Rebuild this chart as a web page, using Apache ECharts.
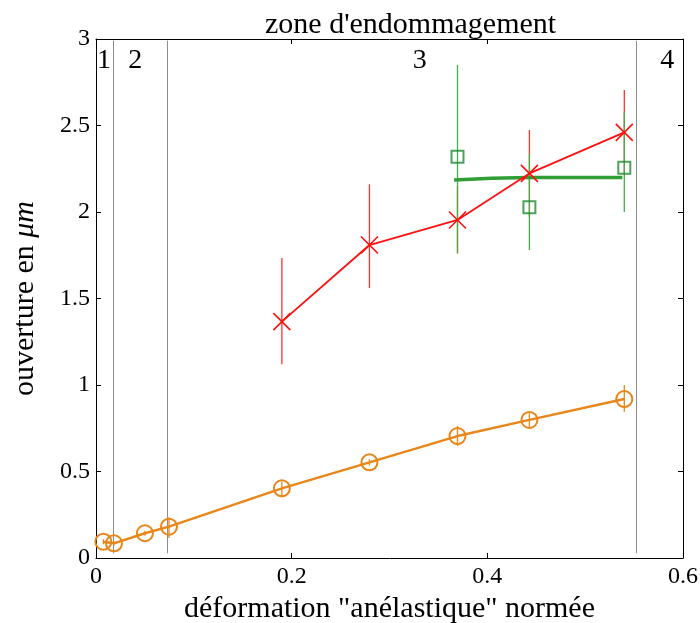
<!DOCTYPE html>
<html>
<head>
<meta charset="utf-8">
<script src="https://cdn.jsdelivr.net/npm/echarts@6/dist/echarts.min.js"></script>
<style>
html,body{margin:0;padding:0;background:#fff;}
#chart{width:700px;height:623px;}
</style>
</head>
<body>
<div id="chart"></div>
<script>
// ---- data ----
const xOrange = [0.0075, 0.0184, 0.050, 0.0746, 0.190, 0.2795, 0.3695, 0.443, 0.540];
const yOrange = [0.094, 0.085, 0.143, 0.181, 0.403, 0.553, 0.705, 0.798, 0.919];
const orangeLow = [0.080, 0.072, 0.128, 0.115, 0.358, 0.535, 0.647, 0.759, 0.846];
const orangeHigh = [0.108, 0.098, 0.158, 0.235, 0.441, 0.571, 0.763, 0.836, 1.000];

const xRed = [0.190, 0.2795, 0.3695, 0.443, 0.540];
const yRed = [1.366, 1.809, 1.954, 2.223, 2.460];
const redLow = [1.120, 1.560, 1.761, 1.970, 2.215];
const redHigh = [1.734, 2.160, 2.150, 2.474, 2.705];

const xGreen = [0.3695, 0.443, 0.540];
const yGreen = [2.320, 2.028, 2.256];
const greenLow = [1.761, 1.780, 2.000];
const greenHigh = [2.850, 2.339, 2.580];

const xGreenFit = [0.366, 0.443, 0.538];
const yGreenFit = [2.185, 2.200, 2.200];

const zoneBounds = [0.0174, 0.0726, 0.552];
const zoneBoundLow = 0.027, zoneBoundHigh = 2.99;
const zoneLabels = ['1', '2', '3', '4'];
const zoneLabelX = [0.0082, 0.040, 0.331, 0.584];
const zoneLabelY = 2.873;

const xTicks = [0, 0.2, 0.4, 0.6];
const yTicks = [0, 0.5, 1, 1.5, 2, 2.5, 3];

// ---- helpers ----
const zip = (a, b) => a.map((v, i) => [v, b[i]]);
const zip3 = (a, b, c) => a.map((v, i) => [v, b[i], c[i]]);
function vline(color, width, crisp) {
  return function (params, api) {
    const p1 = api.coord([api.value(0), api.value(1)]);
    const p2 = api.coord([api.value(0), api.value(2)]);
    const x = crisp ? Math.round(p1[0]) + 0.5 : p1[0];
    return { type: 'line', shape: { x1: x, y1: p1[1], x2: x, y2: p2[1] },
             style: { stroke: color, lineWidth: width } };
  };
}
function errSeries(xs, lo, hi, color, z) {
  return {
    type: 'custom', z: z, silent: true,
    encode: { x: 0, y: [1, 2] },
    data: zip3(xs, lo, hi),
    renderItem: vline(color, 1.3, false)
  };
}

const FONT = '"Liberation Serif", "Times New Roman", serif';
const chart = echarts.init(document.getElementById('chart'), null, { renderer: 'canvas' });

const axisCommon = {
  type: 'value',
  axisLine: { show: true, onZero: false, lineStyle: { color: '#000', width: 1 } },
  axisTick: { show: true, inside: true, length: 5, lineStyle: { color: '#000', width: 1 } },
  splitLine: { show: false }
};

chart.setOption({
  animation: false,
  backgroundColor: '#fff',
  title: {
    text: "zone d'endommagement",
    left: 260, top: 5,
    textStyle: { fontFamily: FONT, fontSize: 30, fontWeight: 'normal', color: '#000' }
  },
  grid: { left: 96, right: 17, top: 39, bottom: 65, containLabel: false, outerBoundsMode: 'none' },
  xAxis: [
    Object.assign({}, axisCommon, {
      position: 'bottom', min: xTicks[0], max: xTicks[xTicks.length - 1], interval: 0.2,
      name: 'déformation "anélastique" normée',
      nameLocation: 'middle', nameGap: 32,
      nameTextStyle: { fontFamily: FONT, fontSize: 30, color: '#000' },
      axisLabel: { fontFamily: FONT, fontSize: 24, color: '#000', margin: 7 }
    }),
    Object.assign({}, axisCommon, {
      position: 'top', min: xTicks[0], max: xTicks[xTicks.length - 1], interval: 0.2,
      axisLabel: { show: false }
    })
  ],
  yAxis: [
    Object.assign({}, axisCommon, {
      position: 'left', min: yTicks[0], max: yTicks[yTicks.length - 1], interval: 0.5,
      name: 'ouverture en {i|μm}',
      nameLocation: 'middle', nameGap: 56,
      nameTextStyle: { fontFamily: FONT, fontSize: 30, color: '#000',
        rich: { i: { fontFamily: FONT, fontSize: 30, fontStyle: 'italic', color: '#000' } } },
      axisLabel: { fontFamily: FONT, fontSize: 24, color: '#000', margin: 6 }
    }),
    Object.assign({}, axisCommon, {
      position: 'right', min: yTicks[0], max: yTicks[yTicks.length - 1], interval: 0.5,
      axisLabel: { show: false }
    })
  ],
  series: [
    // zone boundaries
    {
      type: 'custom', z: 1, silent: true,
      encode: { x: 0, y: [1, 2] },
      data: zoneBounds.map(v => [v, zoneBoundLow, zoneBoundHigh]),
      renderItem: vline('#8c8c8c', 1, true)
    },
    // zone labels
    {
      type: 'custom', z: 1, silent: true,
      encode: { x: 0, y: 1 },
      data: zoneLabelX.map((v, i) => [v, zoneLabelY]),
      renderItem: function (params, api) {
        const p = api.coord([api.value(0), api.value(1)]);
        return { type: 'text', x: p[0], y: p[1],
                 style: { text: zoneLabels[params.dataIndex], fill: '#000', font: '28px ' + FONT,
                          textAlign: 'center', textVerticalAlign: 'middle' } };
      }
    },
    // orange
    errSeries(xOrange, orangeLow, orangeHigh, '#e8861a', 2),
    {
      type: 'line', z: 3, data: zip(xOrange, yOrange),
      symbol: 'circle', symbolSize: 16,
      lineStyle: { color: '#e8861a', width: 2.4 },
      itemStyle: { color: 'rgba(0,0,0,0)', borderColor: '#e8861a', borderWidth: 2 }
    },
    // red error bars
    errSeries(xRed, redLow, redHigh, '#ff3030', 4),
    // green error bars
    errSeries(xGreen, greenLow, greenHigh, '#46ad4c', 5),
    // green fit
    {
      type: 'line', z: 6, data: zip(xGreenFit, yGreenFit), smooth: true,
      symbol: 'none', lineStyle: { color: '#2f9e34', width: 3.5 }
    },
    // green squares
    {
      type: 'scatter', z: 7, data: zip(xGreen, yGreen),
      symbol: 'rect', symbolSize: 12,
      itemStyle: { color: 'rgba(0,0,0,0)', borderColor: '#1e8c32', borderWidth: 2 }
    },
    // red
    {
      type: 'line', z: 8, data: zip(xRed, yRed),
      symbol: 'path://M0 0L10 10M10 0L0 10', symbolSize: 17,
      lineStyle: { color: '#ff1010', width: 1.8 },
      itemStyle: { color: 'rgba(0,0,0,0)', borderColor: '#ff1010', borderWidth: 1.6 }
    }
  ]
});
</script>
</body>
</html>
